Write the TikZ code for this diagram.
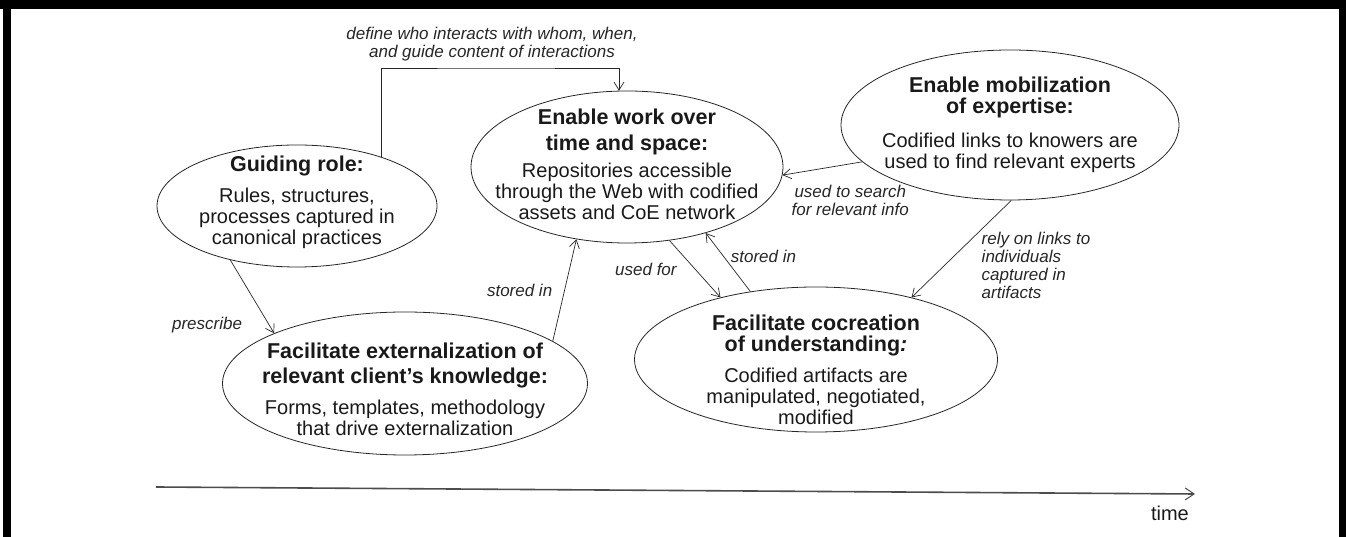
\documentclass[tikz,border=0pt]{standalone}
\usepackage{fontspec}
\setmainfont{Liberation Sans}
\usetikzlibrary{shapes.geometric,positioning,arrows.meta}

\newcommand{\ttl}[1]{{\bfseries\fontsize{21.5}{23}\selectfont #1}}

\tikzset{
  ell/.style n args={2}{ellipse, draw=black!85, line width=0.8pt, minimum width=#1, minimum height=#2},
  txt/.style={align=center, inner sep=0pt, text=black!90, font=\fontsize{20}{21}\selectfont},
  lbl/.style={inner sep=1pt, text=black!85, font=\itshape\fontsize{17}{18}\selectfont},
  arr/.style={draw=black!85, line width=0.7pt, -{Straight Barb[length=8pt,width=10pt]}},
  axis/.style={draw=black!70, line width=1.6pt, -{Straight Barb[length=9pt,width=12pt,line width=1pt]}}
}

\begin{document}
\begin{tikzpicture}[x=1pt, y=1pt]

  \useasboundingbox (0,0) rectangle (1346,537);
  \fill (0,528) rectangle (1346,537);
  \fill (3,0) rectangle (11,537);
  \fill (1339,0) rectangle (1346,537);

  \node[ell={280pt}{122pt}] (guide) at (297,331) {};
  \node[ell={312pt}{152pt}, on grid, above right=39pt and 330pt of guide] (work) {};
  \node[ell={338pt}{150pt}, on grid, above right=42pt and 383pt of work] (mobil) {};
  \node[ell={365pt}{143pt}, on grid, below right=177.5pt and 108pt of guide] (extern) {};
  \node[ell={363pt}{145pt}, on grid, above right=24pt and 411pt of extern] (cocreate) {};

  \node[txt, yshift=4pt] (guidetxt) at (guide) {\ttl{Guiding role:}\\[10pt] Rules, structures,\\ processes captured in\\ canonical practices};
  \node[txt, yshift=3pt] (worktxt) at (work) {\ttl{Enable work over}\\[5pt] \ttl{time and space:}\\[6pt] Repositories accessible\\ through the Web with codified\\ assets and CoE network};
  \node[txt] (mobiltxt) at (mobil) {\ttl{Enable mobilization}\\ \ttl{of expertise:}\\[13pt] Codified links to knowers are\\ used to find relevant experts};
  \node[txt, yshift=-5.5pt] (externtxt) at (extern) {\ttl{Facilitate externalization of}\\[4pt] \ttl{relevant client's knowledge:}\\[10pt] Forms, templates, methodology\\ that drive externalization};
  \node[txt, yshift=-10pt] (cocreatetxt) at (cocreate) {\ttl{Facilitate cocreation}\\ \ttl{of understanding\textit{:}}\\[10pt] Codified artifacts are\\ manipulated, negotiated,\\ modified};

  \coordinate (bend) at (492,469);
  \draw[arr] (guide.30) |- (bend) -| (work.96);
  \node[lbl, align=center, above=6pt of bend] (definelbl) {define who interacts with whom, when,\\ and guide content of interactions};

  \draw[arr] (guide.219) -- (extern.159) node[lbl, pos=0.89, left=26pt] (prescribelbl) {prescribe};
  \draw[arr] (extern.16) -- (work.235) node[lbl, midway, left=11pt] (storedlbl) {stored in};
  \draw[arr] (work.300) -- (cocreate.147) node[lbl, midway, left=17pt] (usedlbl) {used for};
  \draw[arr] (cocreate.134) -- (work.320) node[lbl, pos=0.6, right=6pt] (storedlblb) {stored in};
  \draw[arr] (mobil.194) -- (work.357) node[lbl, align=center, pos=0.15, below=20pt] (searchlbl) {used to search\\ for relevant info};
  \draw[arr] (mobil.271) -- (cocreate.33) node[lbl, align=left, pos=0.31, anchor=north west] (relylbl) {rely on links to\\ individuals\\ captured in\\ artifacts};

  \coordinate (t0) at (156,50);
  \coordinate (t1) at (1195,43);
  \draw[axis] (t0) -- (t1);
  \node[txt, below left=12pt and 6pt of t1] (timelbl) {time};

\end{tikzpicture}
\end{document}
